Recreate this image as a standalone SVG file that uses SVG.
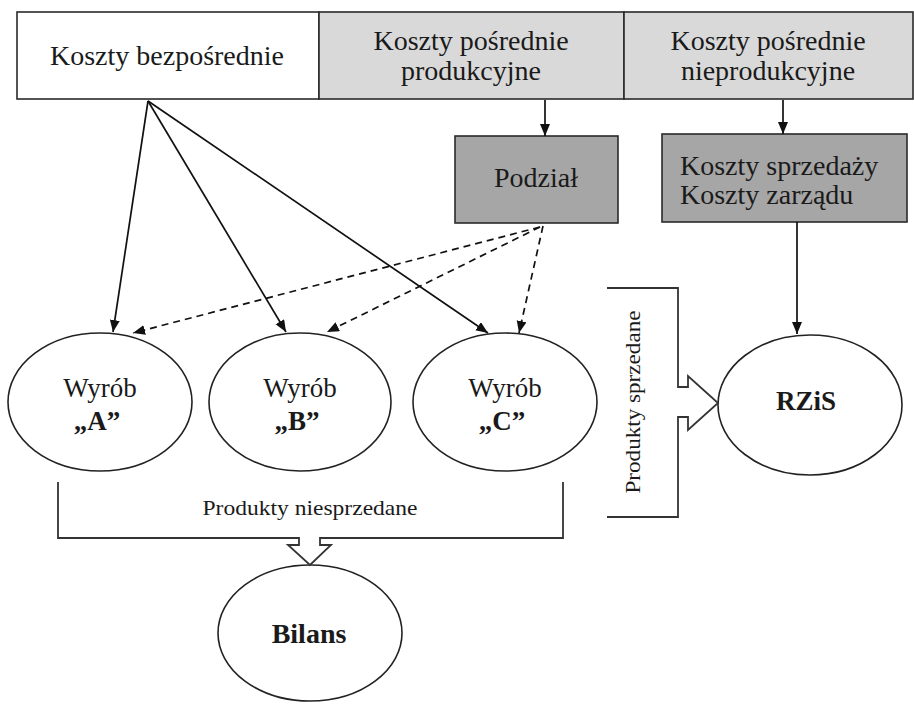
<svg xmlns="http://www.w3.org/2000/svg" width="914" height="704" viewBox="0 0 914 704">
<defs>
<marker id="ah" markerUnits="userSpaceOnUse" markerWidth="14" markerHeight="12" refX="12" refY="5" orient="auto">
<path d="M0,0 L12,5 L0,10 Z" fill="#111"/>
</marker>
<style>
.t{font-family:"Liberation Serif","Times New Roman",serif;fill:#1a1a1a;}
.box{stroke:#2a2a2a;stroke-width:1.6;}
.ell{fill:#fff;stroke:#222;stroke-width:1.6;}
.con{stroke:#111;stroke-width:1.7;fill:none;}
.dash{stroke-dasharray:7 5;}
.br{fill:none;stroke:#333;stroke-width:1.8;}
</style>
</defs>
<rect width="914" height="704" fill="#fff"/>

<g id="koszty-bezposrednie">
<rect class="box" x="17" y="12" width="302" height="87" fill="#fff"/>
<text class="t" x="167" y="65" font-size="28" text-anchor="middle">Koszty bezpośrednie</text>
</g>
<g id="koszty-posrednie-prod">
<rect class="box" x="319" y="12" width="305" height="87" fill="#d9d9d9"/>
<text class="t" x="471" y="50" font-size="28" text-anchor="middle">Koszty pośrednie</text>
<text class="t" x="471" y="80" font-size="28" text-anchor="middle">produkcyjne</text>
</g>
<g id="koszty-posrednie-nieprod">
<rect class="box" x="624" y="12" width="289" height="87" fill="#d9d9d9"/>
<text class="t" x="768" y="50" font-size="28" text-anchor="middle">Koszty pośrednie</text>
<text class="t" x="768" y="80" font-size="28" text-anchor="middle">nieprodukcyjne</text>
</g>
<g id="podzial">
<rect class="box" x="455" y="136" width="163" height="87" fill="#a6a6a6"/>
<text class="t" x="536" y="187" font-size="28" text-anchor="middle">Podział</text>
</g>
<g id="koszty-sprzedazy">
<rect class="box" x="662" y="134" width="245" height="88" fill="#a6a6a6"/>
<text class="t" x="680" y="175" font-size="28">Koszty sprzedaży</text>
<text class="t" x="680" y="204" font-size="28">Koszty zarządu</text>
</g>
<g id="wyrob-a">
<ellipse class="ell" cx="100" cy="402" rx="92" ry="69"/>
<text class="t" x="100" y="397" font-size="27" text-anchor="middle">Wyrób</text>
<text class="t" x="97" y="430" font-size="27" font-weight="bold" text-anchor="middle">„A”</text>
</g>
<g id="wyrob-b">
<ellipse class="ell" cx="300" cy="402" rx="91" ry="69"/>
<text class="t" x="300" y="397" font-size="27" text-anchor="middle">Wyrób</text>
<text class="t" x="297" y="430" font-size="27" font-weight="bold" text-anchor="middle">„B”</text>
</g>
<g id="wyrob-c">
<ellipse class="ell" cx="505" cy="402" rx="92" ry="69"/>
<text class="t" x="505" y="397" font-size="27" text-anchor="middle">Wyrób</text>
<text class="t" x="502" y="430" font-size="27" font-weight="bold" text-anchor="middle">„C”</text>
</g>
<g id="rzis">
<ellipse class="ell" cx="810" cy="405" rx="92" ry="70"/>
<text class="t" x="806" y="410" font-size="27" font-weight="bold" text-anchor="middle">RZiS</text>
</g>
<g id="bilans">
<ellipse class="ell" cx="310" cy="633" rx="92" ry="68"/>
<text class="t" x="309" y="643" font-size="28" font-weight="bold" text-anchor="middle">Bilans</text>
</g>

<g id="connectors">
<line class="con" x1="545" y1="100" x2="545" y2="136" marker-end="url(#ah)"/>
<line class="con" x1="783" y1="100" x2="783" y2="134" marker-end="url(#ah)"/>
<line class="con" x1="797" y1="222" x2="797" y2="334" marker-end="url(#ah)"/>
<line class="con" x1="148" y1="101" x2="113" y2="332" marker-end="url(#ah)"/>
<line class="con" x1="148" y1="101" x2="286" y2="332" marker-end="url(#ah)"/>
<line class="con" x1="148" y1="101" x2="488" y2="333" marker-end="url(#ah)"/>
<line class="con dash" x1="540" y1="227" x2="133" y2="333" marker-end="url(#ah)"/>
<line class="con dash" x1="540" y1="227" x2="327" y2="332" marker-end="url(#ah)"/>
<line class="con dash" x1="543" y1="226" x2="519" y2="333" marker-end="url(#ah)"/>
</g>

<g id="produkty-niesprzedane">
<path class="br" d="M58,482 L58,538 L299,538 L299,545 L288,545 L310,565 L331,545 L320,545 L320,538 L563,538 L563,482"/>
<text class="t" x="310" y="515" font-size="22" text-anchor="middle" textLength="215" lengthAdjust="spacingAndGlyphs">Produkty niesprzedane</text>
</g>
<g id="produkty-sprzedane">
<path class="br" d="M607,288 L678,288 L678,387 L688,387 L688,376 L718,403 L688,430 L688,417 L678,417 L678,517 L607,517"/>
<text class="t" transform="translate(640,402) rotate(-90)" x="0" y="0" font-size="22" text-anchor="middle" textLength="183" lengthAdjust="spacingAndGlyphs">Produkty sprzedane</text>
</g>
</svg>
